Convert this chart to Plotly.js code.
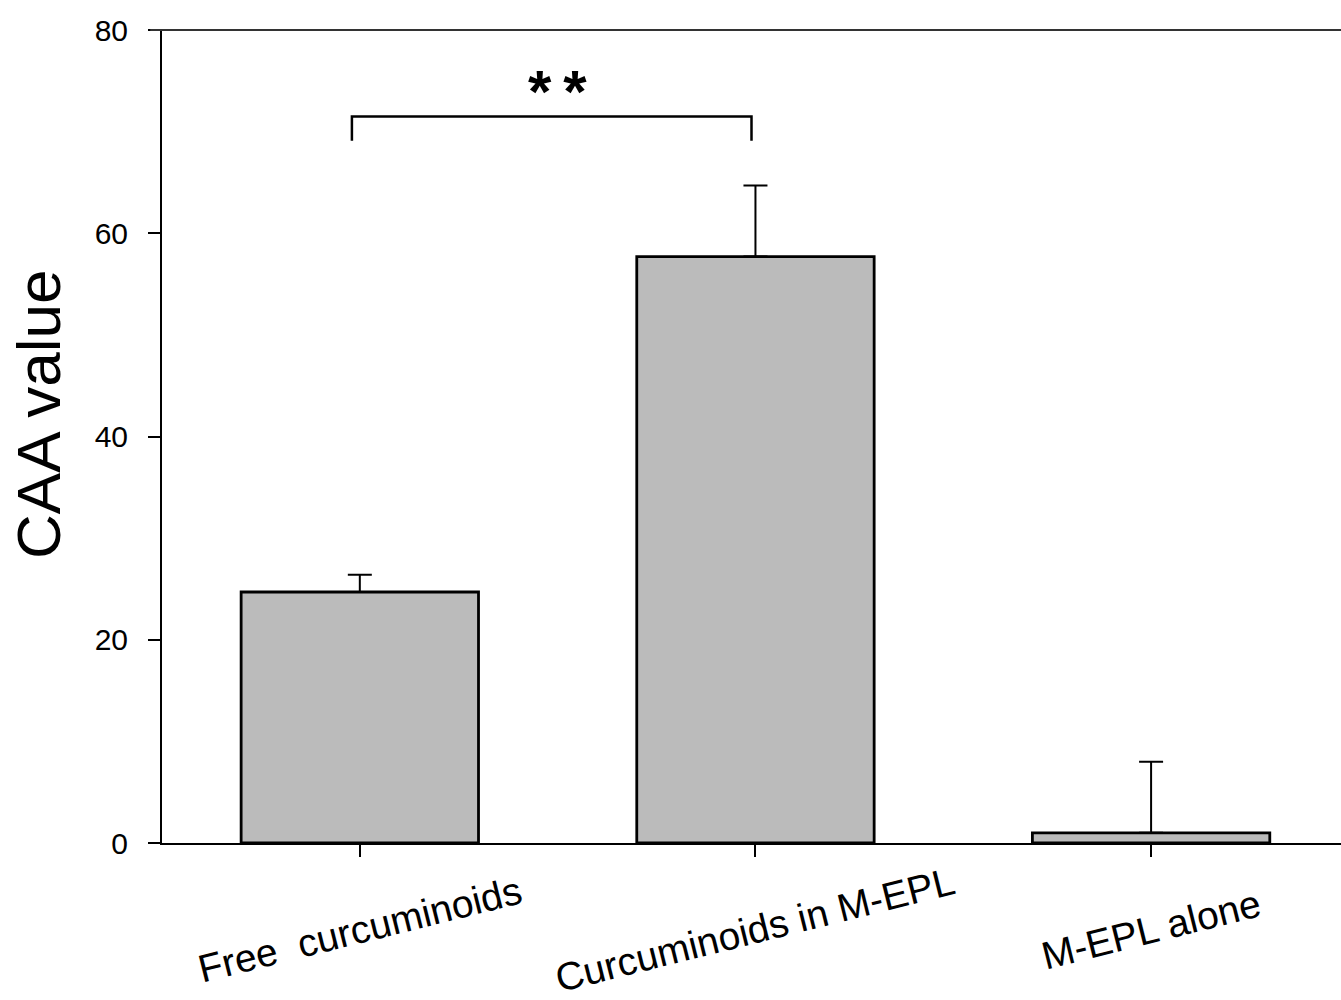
<!DOCTYPE html>
<html>
<head>
<meta charset="utf-8">
<script src="https://cdn.plot.ly/plotly-3.0.1.min.js"></script>
<style>html,body{margin:0;padding:0;background:#fff;}#chart{width:1341px;height:1000px;}</style>
</head>
<body>
<div id="chart"></div>
<script>
// ---- data ----
const categories = ["Free\u00A0 curcuminoids", "Curcuminoids in M-EPL", "M-EPL alone"];
const caaValues = [24.7, 57.7, 1.0];
const caaErrors = [1.7, 7.0, 7.0];
const yTickVals = [0, 20, 40, 60, 80];
const yTitle = "CAA value";
// significance bracket between category 0 and 1
const bracketFrom = 0;
const bracketTo = 1;
const bracketTopValue = 71.5;
const bracketLegValue = 69.1;
const sigLabel = "*\u2009*";
const sigValue = 73.9;

const FONT = "Liberation Sans, Arial, Helvetica, sans-serif";
const xIdx = categories.map((_, i) => i);

const trace = {
  type: "bar",
  x: xIdx,
  y: caaValues,
  width: 0.6,
  marker: { color: "#bbbbbb", line: { color: "#000", width: 2.8 } },
  error_y: {
    type: "data", symmetric: false, array: caaErrors,
    arrayminus: caaValues.map(() => 0),
    color: "#000", thickness: 2, width: 12
  },
  hoverinfo: "skip"
};

const labelAnns = categories.map((c, i) => ({
  x: i, xref: "x", y: 0, yref: "y",
  text: c, showarrow: false, textangle: -14,
  xanchor: "center", yanchor: "middle", yshift: -86,
  font: { family: FONT, size: 39, color: "#000" }
}));

const sigAnn = {
  x: (bracketFrom + bracketTo) / 2, xref: "x", y: sigValue, yref: "y",
  text: "<b>" + sigLabel + "</b>", showarrow: false,
  xanchor: "center", yanchor: "middle",
  font: { family: FONT, size: 60, color: "#000" }
};

const yTitleAnn = {
  x: 0, xref: "paper", xshift: -123, y: 0.5277, yref: "paper",
  text: yTitle, showarrow: false, textangle: -90,
  xanchor: "center", yanchor: "middle",
  font: { family: FONT, size: 62, color: "#000" }
};

const bracketShape = {
  type: "path", xref: "x", yref: "y",
  path: "M " + (bracketFrom - 0.02) + " " + bracketLegValue +
        " L " + (bracketFrom - 0.02) + " " + bracketTopValue +
        " L " + (bracketTo - 0.01) + " " + bracketTopValue +
        " L " + (bracketTo - 0.01) + " " + bracketLegValue,
  line: { color: "#000", width: 2.5 }
};

const layout = {
  width: 1341, height: 1000,
  margin: { l: 162, r: 0, t: 30, b: 157, pad: 0 },
  paper_bgcolor: "#fff", plot_bgcolor: "#fff",
  showlegend: false,
  xaxis: {
    type: "linear", range: [-0.5, 2.48],
    tickvals: xIdx, showticklabels: false,
    ticks: "outside", ticklen: 12, tickwidth: 2, tickcolor: "#000",
    showline: true, linecolor: "#000", linewidth: 2, mirror: false,
    showgrid: false, zeroline: false
  },
  yaxis: {
    range: [0, 80], tickvals: yTickVals,
    ticks: "outside", ticklen: 12, tickwidth: 2, tickcolor: "#000",
    showline: true, linecolor: "#000", linewidth: 2,
    showgrid: false, zeroline: false,
    ticklabelstandoff: 14,
    tickfont: { family: FONT, size: 30, color: "#000" }
  },
  shapes: [
    bracketShape,
    { type: "line", xref: "paper", yref: "paper", x0: -0.01, x1: 1, y0: 1, y1: 1,
      line: { color: "#333", width: 2 } }
  ],
  annotations: labelAnns.concat([sigAnn, yTitleAnn])
};

Plotly.newPlot("chart", [trace], layout, { displayModeBar: false, staticPlot: true });
</script>
</body>
</html>
